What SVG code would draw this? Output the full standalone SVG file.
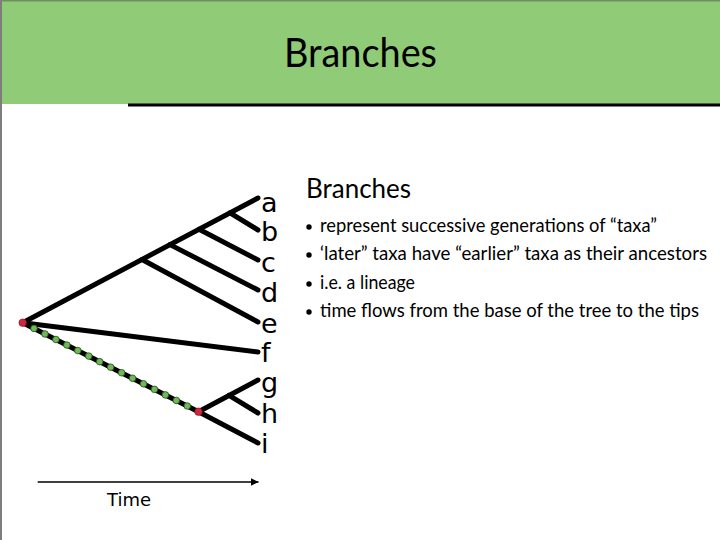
<svg xmlns="http://www.w3.org/2000/svg" width="720" height="540" viewBox="0 0 720 540">
<style>
.br{stroke:#000;stroke-width:5;stroke-linecap:round;fill:none}
.lab{font-family:"DejaVu Sans",sans-serif;font-size:27px;fill:#000}
.gill{font-family:Lato,"Liberation Sans",sans-serif;fill:#000}
.bul{font-size:18.6px}
.red{fill:#d0263e;stroke:#7a1020;stroke-width:0.6}
.grn{fill:#6fb957;stroke:#23501a;stroke-width:0.8}
</style>
<defs>
<marker id="ah" viewBox="0 0 10 10" refX="10" refY="5" markerWidth="8" markerHeight="8" markerUnits="userSpaceOnUse" orient="auto">
<path d="M0,0 L10,5 L0,10 z" fill="#000"/>
</marker>
<circle id="gd" r="3.3" class="grn"/>
</defs>
<rect x="0" y="0" width="720" height="540" fill="#fff"/>
<g id="header">
<rect x="0" y="0" width="720" height="104" fill="#90cb77"/>
<rect x="0" y="0" width="720" height="1.5" fill="#6f8f63"/>
<rect x="128" y="103.5" width="592" height="3" fill="#000"/>
<text class="gill" x="284" y="67" font-size="41" textLength="153" lengthAdjust="spacingAndGlyphs">Branches</text>
</g>
<rect x="0" y="0" width="2" height="540" fill="#7d7d7d"/>
<g id="text-panel">
<text class="gill" x="306" y="198" font-size="27" textLength="105" lengthAdjust="spacingAndGlyphs">Branches</text>
<circle cx="309" cy="227" r="2.7" fill="#000"/>
<circle cx="309" cy="255" r="2.7" fill="#000"/>
<circle cx="309" cy="284" r="2.7" fill="#000"/>
<circle cx="309" cy="312" r="2.7" fill="#000"/>
<text class="gill bul" x="320" y="232" textLength="337" lengthAdjust="spacingAndGlyphs">represent successive generations of “taxa”</text>
<text class="gill bul" x="320" y="260" textLength="387" lengthAdjust="spacingAndGlyphs">‘later” taxa have “earlier” taxa as their ancestors</text>
<text class="gill bul" x="320" y="289" textLength="95" lengthAdjust="spacingAndGlyphs">i.e. a lineage</text>
<text class="gill bul" x="320" y="317" textLength="379" lengthAdjust="spacingAndGlyphs">time flows from the base of the tree to the tips</text>
</g>
<g id="connectors">
<line class="br" x1="22.7" y1="322.7" x2="258" y2="198"/>
<line class="br" x1="230" y1="212.8" x2="258" y2="230"/>
<line class="br" x1="199" y1="229.3" x2="258" y2="260"/>
<line class="br" x1="170" y1="244.6" x2="258" y2="290"/>
<line class="br" x1="142" y1="259.5" x2="258" y2="322"/>
<line class="br" x1="22.7" y1="322.7" x2="258" y2="352"/>
<line class="br" x1="22.7" y1="322.7" x2="198.5" y2="411.7" stroke-width="4"/>
<line class="br" x1="198.5" y1="411.7" x2="258" y2="380"/>
<line class="br" x1="229" y1="395.4" x2="258" y2="413"/>
<line class="br" x1="198.5" y1="411.7" x2="258" y2="443"/>
<g id="lineage-dots">
<use href="#gd" x="34" y="328.4"/>
<use href="#gd" x="44.95" y="333.96"/>
<use href="#gd" x="55.9" y="339.5"/>
<use href="#gd" x="66.85" y="345.04"/>
<use href="#gd" x="77.8" y="350.58"/>
<use href="#gd" x="88.75" y="356.12"/>
<use href="#gd" x="99.7" y="361.66"/>
<use href="#gd" x="110.65" y="367.2"/>
<use href="#gd" x="121.6" y="372.74"/>
<use href="#gd" x="132.55" y="378.28"/>
<use href="#gd" x="143.5" y="383.82"/>
<use href="#gd" x="154.45" y="389.37"/>
<use href="#gd" x="165.4" y="394.91"/>
<use href="#gd" x="176.35" y="400.45"/>
<use href="#gd" x="187.3" y="405.99"/>
</g>
</g>
<g id="root"><circle class="red" cx="22.7" cy="322.7" r="3.8"/></g>
<g id="node-ghi"><circle class="red" cx="198.5" cy="411.7" r="3.8"/></g>
<g id="tip-a"><text class="lab" x="261" y="212">a</text></g>
<g id="tip-b"><text class="lab" x="261" y="241">b</text></g>
<g id="tip-c"><text class="lab" x="261" y="272">c</text></g>
<g id="tip-d"><text class="lab" x="261" y="302">d</text></g>
<g id="tip-e"><text class="lab" x="261" y="333">e</text></g>
<g id="tip-f"><text class="lab" x="261" y="362">f</text></g>
<g id="tip-g"><text class="lab" x="261" y="392">g</text></g>
<g id="tip-h"><text class="lab" x="261" y="423">h</text></g>
<g id="tip-i"><text class="lab" x="261" y="453">i</text></g>
<g id="time-axis">
<line x1="37.7" y1="482" x2="258.5" y2="482" stroke="#000" stroke-width="1.6" marker-end="url(#ah)"/>
<text x="107" y="506" font-family="DejaVu Sans,sans-serif" font-size="18" fill="#000">Time</text>
</g>
</svg>
